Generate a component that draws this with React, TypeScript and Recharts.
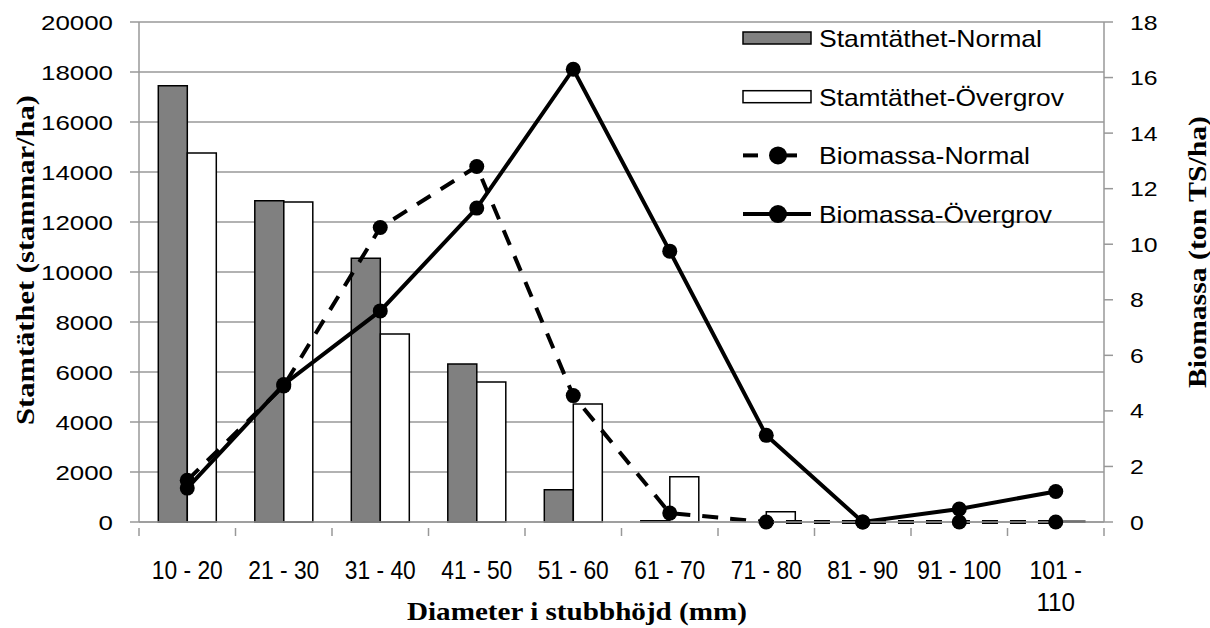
import React from 'react';
import {
  ComposedChart, Bar, Line, XAxis, YAxis, CartesianGrid, Legend,
} from 'recharts';

const categories = [
  '10 - 20', '21 - 30', '31 - 40', '41 - 50', '51 - 60',
  '61 - 70', '71 - 80', '81 - 90', '91 - 100', '101 - 110',
];
const stamNormal = [17450, 12850, 10550, 6320, 1290, 50, 0, 0, 0, 0];
const stamOvergrov = [14760, 12800, 7520, 5600, 4720, 1810, 410, 0, 0, 30];
const bioNormal = [1.5, 4.9, 10.6, 12.8, 4.55, 0.32, 0, 0, 0, 0];
const bioOvergrov = [1.22, 4.95, 7.6, 11.3, 16.3, 9.75, 3.12, 0, 0.47, 1.1];

const leftTicks = [0, 2000, 4000, 6000, 8000, 10000, 12000, 14000, 16000, 18000, 20000];
const rightTicks = [0, 2, 4, 6, 8, 10, 12, 14, 16, 18];

const legendNames = ['Stamtäthet-Normal', 'Stamtäthet-Övergrov', 'Biomassa-Normal', 'Biomassa-Övergrov'];

const data = categories.map((cat, i) => ({
  cat,
  stamNormal: stamNormal[i],
  stamOvergrov: stamOvergrov[i],
  bioNormal: bioNormal[i],
  bioOvergrov: bioOvergrov[i],
}));

const SANS = '"Liberation Sans", Arial, sans-serif';
const NARROW = '"Liberation Sans Narrow", "Liberation Sans", sans-serif';
const SERIF = '"Liberation Serif", "Times New Roman", serif';
const GRID = '#989898';

// rough Calibri widths, the labels in the original are rendered in it
const labelWidth = (s: string) =>
  s.split('').reduce((w, c) => w + (c === ' ' ? 5.8 : c === '-' ? 7.8 : 12.9), 0);

function LeftTick(props: any) {
  const { x, y, payload } = props;
  const s = String(payload.value);
  return (
    <text x={x - 17} y={y + 7.5} textAnchor="end" fontFamily={SANS} fontSize={21} fill="#000"
      textLength={s.length * 14.4} lengthAdjust="spacingAndGlyphs">{s}</text>
  );
}

function RightTick(props: any) {
  const { x, y, payload } = props;
  const s = String(payload.value);
  return (
    <text x={x + 17} y={y + 7.5} textAnchor="start" fontFamily={SANS} fontSize={21} fill="#000"
      textLength={s.length * 13.8} lengthAdjust="spacingAndGlyphs">{s}</text>
  );
}

function XTick(props: any) {
  const { x, y, payload, index } = props;
  const band = (Number(props.width) || 965) / categories.length;
  const s = String(payload.value);
  const lines = s.length > 8 ? [s.slice(0, s.lastIndexOf('-') + 1), s.slice(s.lastIndexOf('-') + 2)] : [s];
  return (
    <g>
      <line x1={x - band / 2} x2={x - band / 2} y1={y} y2={y + 8} stroke={GRID} strokeWidth={1.5} />
      {index === categories.length - 1 && (
        <line x1={x + band / 2} x2={x + band / 2} y1={y} y2={y + 8} stroke={GRID} strokeWidth={1.5} />
      )}
      {lines.map((l, i) => (
        <text key={i} x={x} y={y + 51 + i * 32} textAnchor="middle" fontFamily={NARROW} fontSize={25}
          fill="#000" textLength={labelWidth(l)} lengthAdjust="spacingAndGlyphs">{l}</text>
      ))}
    </g>
  );
}

function LeftTitle() {
  return (
    <text x={25} y={260} transform="rotate(-90, 25, 260)" textAnchor="middle" dominantBaseline="central"
      fontFamily={SERIF} fontWeight="bold" fontSize={25} fill="#000"
      textLength={330} lengthAdjust="spacingAndGlyphs">Stamtäthet (stammar/ha)</text>
  );
}

function RightTitle() {
  return (
    <text x={1197} y={252} transform="rotate(-90, 1197, 252)" textAnchor="middle" dominantBaseline="central"
      fontFamily={SERIF} fontWeight="bold" fontSize={25} fill="#000"
      textLength={272} lengthAdjust="spacingAndGlyphs">Biomassa (ton TS/ha)</text>
  );
}

function XTitle() {
  return (
    <text x={577} y={620} textAnchor="middle" fontFamily={SERIF} fontWeight="bold" fontSize={25} fill="#000"
      textLength={340} lengthAdjust="spacingAndGlyphs">Diameter i stubbhöjd (mm)</text>
  );
}

const legendLens = [223, 245, 211, 233];

function LegendBox() {
  // svg is placed with its left edge at page x=730
  const ox = 730;
  return (
    <svg width={480} height={240} style={{ display: 'block', overflow: 'visible' }}>
      {legendNames.map((name, i) => {
        const cy = 38 + i * 58.7;
        const x0 = 743 - ox;
        let icon;
        if (i === 0) icon = <rect x={x0} y={cy - 6} width={68} height={12} fill="#808080" stroke="#000" strokeWidth={1.5} />;
        else if (i === 1) icon = <rect x={x0} y={cy - 6} width={68} height={12} fill="#fff" stroke="#000" strokeWidth={1.5} />;
        else if (i === 2) icon = (
          <g>
            <line x1={x0} x2={x0 + 15} y1={cy} y2={cy} stroke="#000" strokeWidth={4} />
            <line x1={x0 + 27} x2={x0 + 54} y1={cy} y2={cy} stroke="#000" strokeWidth={4} />
            <circle cx={x0 + 35} cy={cy} r={9} fill="#000" />
          </g>
        );
        else icon = (
          <g>
            <line x1={x0} x2={x0 + 68} y1={cy} y2={cy} stroke="#000" strokeWidth={4} />
            <circle cx={x0 + 35} cy={cy} r={9} fill="#000" />
          </g>
        );
        return (
          <g key={name}>
            {icon}
            <text x={819 - ox} y={cy + 9} fontFamily={SANS} fontSize={24} fill="#000"
              textLength={legendLens[i]} lengthAdjust="spacingAndGlyphs">{name}</text>
          </g>
        );
      })}
    </svg>
  );
}

export default function App() {
  return (
    <div style={{ position: 'absolute', left: 0, top: 0, background: '#fff' }}>
      <ComposedChart width={1210} height={628} data={data}
        margin={{ top: 22, right: 0, bottom: 0, left: 0 }}
        barCategoryGap="20%" barGap={0}>
        <CartesianGrid yAxisId="left" vertical={false} stroke={GRID} strokeWidth={1.5} />
        <XAxis dataKey="cat" interval={0} height={106} tickLine={false} tickMargin={0}
          axisLine={{ stroke: GRID, strokeWidth: 1.5 }} tick={<XTick />} label={<XTitle />} />
        <YAxis yAxisId="left" domain={[0, 20000]} ticks={leftTicks} width={139} interval={0}
          axisLine={{ stroke: GRID, strokeWidth: 1.5 }} tickLine={{ stroke: GRID, strokeWidth: 1.5 }}
          tickSize={9} tickMargin={0} tick={<LeftTick />} label={<LeftTitle />} />
        <YAxis yAxisId="right" orientation="right" domain={[0, 18]} ticks={rightTicks} width={106} interval={0}
          axisLine={{ stroke: GRID, strokeWidth: 1.5 }} tickLine={{ stroke: GRID, strokeWidth: 1.5 }}
          tickSize={9} tickMargin={0} tick={<RightTick />} label={<RightTitle />} />
        <Bar yAxisId="left" dataKey="stamNormal" name={legendNames[0]} fill="#808080" stroke="#000"
          strokeWidth={1.5} isAnimationActive={false} />
        <Bar yAxisId="left" dataKey="stamOvergrov" name={legendNames[1]} fill="#fff" stroke="#000"
          strokeWidth={1.5} isAnimationActive={false} />
        <Line yAxisId="right" type="linear" dataKey="bioNormal" name={legendNames[2]} stroke="#000"
          strokeWidth={4} strokeDasharray="16 12" dot={{ r: 7.5, fill: '#000', stroke: 'none' }}
          activeDot={false} isAnimationActive={false} />
        <Line yAxisId="right" type="linear" dataKey="bioOvergrov" name={legendNames[3]} stroke="#000"
          strokeWidth={4} dot={{ r: 7.5, fill: '#000', stroke: 'none' }}
          activeDot={false} isAnimationActive={false} />
        <Legend layout="vertical" align="center" verticalAlign="middle" content={<LegendBox />}
          wrapperStyle={{ left: 730, top: 0, width: 480, height: 240 }} />
      </ComposedChart>
    </div>
  );
}
